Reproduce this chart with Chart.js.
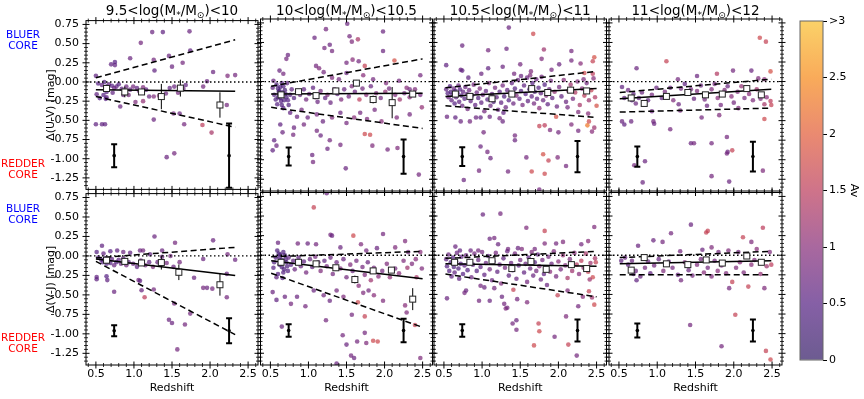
<!DOCTYPE html>
<html>
<head>
<meta charset="utf-8">
<script src="https://cdn.jsdelivr.net/npm/chart.js@4.4.1/dist/chart.umd.min.js"></script>
<style>
body{margin:0;background:#fff;font-family:'DejaVu Sans',sans-serif;}
#fig{position:relative;width:864px;height:399px;overflow:hidden;background:#fff;}
#fig canvas{position:absolute;}
.side{position:absolute;left:0;width:46px;font-size:10.5px;line-height:11px;text-align:center;}
.ttl{position:absolute;top:2px;font-size:13.5px;line-height:17px;white-space:nowrap;transform:translateX(-50%);color:#000;}
.ttl sub{font-size:9px;vertical-align:baseline;position:relative;top:3px;}
</style>
</head>
<body>
<div id="fig"></div>
<script>
// axis ticks and labels
const redshiftTicks = [0.5, 1.0, 1.5, 2.0, 2.5];
const offsetTicks = [-1.25, -1.0, -0.75, -0.5, -0.25, 0, 0.25, 0.5, 0.75];
const avTicks = [0, 0.5, 1, 1.5, 2, 2.5, 3];
const avTickLabels = ['0', '0.5', '1', '1.5', '2', '2.5', '>3'];
const massLow = ['9.5', '10', '10.5', '11'];
const massHigh = ['10', '10.5', '11', '12'];
const colourNames = ['U-V', 'V-J'];

// representative error bars: redshift positions, offset, half-lengths per column
const repZ = [0.74, 2.25];
const repOffset = -0.96;
const uvRepErr = [[0.15, 0.42], [0.115, 0.22], [0.12, 0.20], [0.13, 0.19]];
const vjRepErr = [[0.07, 0.16], [0.08, 0.15], [0.08, 0.14], [0.09, 0.14]];

// fitted lines [z0, d0, z1, d1]
const uvSolid = [[0.50, -0.10, 2.33, -0.12], [0.51, -0.16, 2.50, -0.15], [0.52, -0.19, 2.50, -0.09], [0.51, -0.22, 2.49, -0.10]];
const uvUpper = [[0.50, 0.055, 2.33, 0.55], [0.51, -0.06, 2.50, 0.29], [0.52, -0.08, 2.50, 0.13], [0.51, -0.14, 2.49, 0.03]];
const uvLower = [[0.50, -0.19, 2.33, -0.59], [0.51, -0.33, 2.50, -0.60], [0.52, -0.31, 2.50, -0.46], [0.51, -0.39, 2.49, -0.34]];
const vjSolid = [[0.50, -0.04, 2.33, -0.25], [0.51, -0.07, 2.50, -0.30], [0.52, -0.11, 2.50, -0.14], [0.51, -0.11, 2.49, -0.07]];
const vjUpper = [[0.50, -0.025, 2.33, 0.11], [0.51, -0.02, 2.50, 0.05], [0.52, -0.04, 2.50, 0.05], [0.51, -0.03, 2.49, 0.05]];
const vjLower = [[0.50, -0.07, 2.33, -1.01], [0.51, -0.23, 2.50, -0.92], [0.52, -0.24, 2.50, -0.53], [0.51, -0.25, 2.49, -0.25]];

// binned medians [z, d, err]
const uvMedians = [
  [[0.64, -0.085, 0.02], [0.88, -0.13, 0.07], [1.10, -0.13, 0.02], [1.36, -0.19, 0.165], [1.61, -0.08, 0.11], [2.13, -0.30, 0.165]],
  [[0.64, -0.17, 0.02], [0.87, -0.13, 0.02], [1.10, -0.18, 0.03], [1.36, -0.12, 0.04], [1.63, -0.02, 0.04], [1.85, -0.23, 0.05], [2.10, -0.27, 0.20], [2.37, -0.16, 0.02]],
  [[0.65, -0.16, 0.02], [0.84, -0.19, 0.02], [1.13, -0.22, 0.02], [1.39, -0.16, 0.02], [1.65, -0.09, 0.02], [1.86, -0.14, 0.02], [2.16, -0.11, 0.02], [2.37, -0.12, 0.02]],
  [[0.66, -0.21, 0.02], [0.83, -0.28, 0.02], [1.12, -0.19, 0.02], [1.40, -0.14, 0.02], [1.63, -0.17, 0.02], [1.85, -0.16, 0.02], [2.17, -0.09, 0.03], [2.36, -0.17, 0.03]]
];
const vjMedians = [
  [[0.64, -0.055, 0.02], [0.88, -0.07, 0.02], [1.10, -0.09, 0.02], [1.36, -0.085, 0.09], [1.59, -0.21, 0.10], [2.13, -0.37, 0.14]],
  [[0.64, -0.09, 0.02], [0.87, -0.09, 0.02], [1.10, -0.11, 0.02], [1.36, -0.16, 0.02], [1.61, -0.31, 0.05], [1.85, -0.20, 0.03], [2.09, -0.19, 0.03], [2.37, -0.56, 0.14]],
  [[0.64, -0.09, 0.02], [0.84, -0.09, 0.02], [1.13, -0.07, 0.02], [1.39, -0.17, 0.02], [1.64, -0.08, 0.02], [1.84, -0.18, 0.02], [2.17, -0.12, 0.04], [2.37, -0.17, 0.02]],
  [[0.66, -0.19, 0.02], [0.83, -0.03, 0.02], [1.12, -0.11, 0.02], [1.40, -0.12, 0.02], [1.64, -0.06, 0.02], [1.85, -0.10, 0.02], [2.17, -0.01, 0.02], [2.36, -0.09, 0.02]]
];

// galaxies [redshift, offset, Av]
const uvGal0 = [[1.24,0.65,0.7],[1.38,0.65,0.6],[1.73,0.66,0.7],[1.09,0.51,0.8],[0.95,0.31,0.7],[0.70,0.23,0.6],[0.75,0.26,0.5],[0.75,0.22,0.6],[1.26,0.29,0.8],[1.46,0.34,0.7],[1.74,0.41,0.6],[1.50,0.20,0.7],[1.64,0.25,0.8],[1.27,0.15,0.6],[2.04,0.13,0.7],[2.23,0.08,0.9],[2.33,0.09,0.8],[0.50,0.08,0.6],[1.96,0.01,0.7],
[0.53,-0.02,0.5],[0.58,-0.04,0.6],[0.61,0.00,0.4],[0.64,-0.06,0.5],[0.67,-0.03,0.6],[0.71,-0.05,0.5],[0.74,-0.08,0.7],[0.77,-0.06,0.6],[0.80,-0.03,0.5],[0.84,-0.09,0.6],[0.90,-0.06,0.7],[0.95,-0.10,0.6],[0.99,-0.06,0.8],[1.04,-0.08,0.6],[1.07,-0.12,0.7],[1.12,-0.07,0.9],[1.16,-0.10,0.6],[1.20,-0.19,0.7],[1.26,-0.19,0.9],[1.33,-0.18,1.0],[1.42,-0.15,0.7],[1.47,-0.08,0.6],[1.53,-0.06,0.7],[1.58,-0.14,0.8],[1.65,-0.09,0.7],[1.68,-0.04,0.6],[1.91,-0.06,0.8],
[0.51,-0.16,0.6],[0.55,-0.21,0.5],[0.64,-0.20,0.6],[0.64,-0.13,0.5],[0.82,-0.32,0.7],[1.02,-0.26,0.9],[1.12,-0.25,1.1],[1.26,-0.49,0.7],[1.52,-0.41,0.8],[1.60,-0.41,0.7],[1.66,-0.55,0.8],[1.90,-0.56,1.5],[2.02,-0.66,1.3],[2.22,-0.30,0.8],[1.43,-0.98,0.7],[1.53,-0.93,0.8],[0.50,-0.55,0.6],[0.58,-0.55,0.6],[0.62,-0.55,0.6],[0.60,-0.17,0.5],[0.72,-0.14,0.6],[0.86,-0.17,0.7],[0.93,-0.17,0.8],[0.63,-0.22,0.5]];

const uvGal1 = [[1.51,0.74,0.7],[1.23,0.67,0.8],[1.08,0.56,0.7],[1.54,0.58,0.8],[1.65,0.54,1.3],[1.57,0.51,0.9],[1.98,0.64,0.7],[1.21,0.43,0.8],[1.28,0.47,0.7],[1.31,0.39,0.8],[0.73,0.34,0.7],[0.71,0.29,0.8],[1.98,0.39,0.7],[1.50,0.24,0.8],[1.58,0.28,1.0],[1.66,0.26,0.8],[2.13,0.27,1.8],[1.74,0.20,1.6],[1.10,0.20,0.8],[1.14,0.17,0.9],[1.20,0.12,0.8],[0.62,0.14,0.7],[0.67,0.10,0.8],[0.54,0.01,0.7],[2.47,0.08,0.8],[1.31,0.05,0.9],[1.40,0.03,0.8],[1.50,0.11,0.7],[1.72,0.08,1.0],[1.85,0.03,0.8],[2.02,-0.02,0.9],[2.19,0.01,0.8],[2.29,-0.08,1.0],[2.33,-0.10,0.8],
[0.58,-0.04,0.4],[0.60,-0.09,0.3],[0.61,-0.13,0.4],[0.62,-0.17,0.3],[0.63,-0.21,0.4],[0.64,-0.25,0.5],[0.65,-0.30,0.4],[0.67,-0.34,0.5],[0.67,-0.06,0.4],[0.69,-0.11,0.3],[0.70,-0.16,0.4],[0.71,-0.20,0.3],[0.73,-0.24,0.5],[0.74,-0.30,0.4],[0.76,-0.17,0.5],[0.78,-0.10,0.6],[0.81,-0.21,0.5],[0.55,-0.17,0.5],[0.57,-0.23,0.4],[0.59,-0.29,0.5],[0.53,-0.08,0.6],[0.65,-0.02,0.5],[0.72,-0.02,0.6],[0.62,-0.12,0.3],[0.66,-0.14,0.3],[0.68,-0.24,0.4],[0.60,-0.20,0.4],[0.63,-0.07,0.4],
[0.85,-0.13,0.6],[0.89,-0.17,0.7],[0.94,-0.10,0.6],[0.97,-0.23,0.8],[1.01,-0.16,0.7],[1.06,-0.08,0.6],[1.09,-0.20,0.9],[1.12,-0.26,0.7],[1.16,-0.12,0.8],[1.22,-0.21,0.6],[1.25,-0.17,0.9],[1.29,-0.27,0.7],[1.34,-0.10,0.8],[1.38,-0.16,0.6],[1.43,-0.23,0.9],[1.47,-0.10,0.7],[1.53,-0.19,0.8],[1.57,-0.06,0.9],[1.61,-0.13,0.7],[1.67,-0.23,1.5],[1.71,-0.09,0.8],[1.76,-0.17,1.0],[1.82,-0.06,0.7],[1.89,-0.15,0.9],[1.95,-0.21,0.8],[2.01,-0.13,1.1],[2.06,-0.09,0.8],[2.14,-0.17,0.9],[2.20,-0.23,1.2],[2.26,-0.15,0.8],[2.33,-0.20,1.0],[2.40,-0.10,0.9],[2.47,-0.17,0.8],[2.49,-0.33,1.1],
[0.76,-0.40,0.6],[0.85,-0.45,0.7],[0.91,-0.36,0.8],[0.99,-0.46,0.7],[1.11,-0.42,0.8],[1.19,-0.51,0.7],[1.31,-0.46,0.9],[1.42,-0.40,0.7],[1.50,-0.53,0.8],[1.60,-0.46,1.0],[1.68,-0.40,0.8],[1.77,-0.48,0.9],[1.87,-0.36,0.8],[1.96,-0.51,1.0],[2.16,-0.46,0.9],[2.33,-0.42,0.8],[0.63,-0.55,0.6],[0.66,-0.65,0.7],[0.80,-0.68,0.8],[1.16,-0.69,0.7],[1.28,-0.75,0.8],[1.74,-0.67,1.7],[1.81,-0.68,1.7],[1.11,-0.63,0.8],[0.55,-0.75,0.6],[0.58,-0.82,0.7],[0.53,-0.88,0.6],[1.05,-0.94,0.7],[1.06,-1.03,0.8],[1.25,-0.86,0.7],[1.42,-0.81,0.8],[1.49,-1.11,0.7],[1.84,-0.82,0.9],[2.04,-0.87,0.8],[2.17,-0.85,0.9],[2.45,-1.19,0.8],[0.81,-0.59,0.7],[0.94,-0.55,0.8]];

const uvGal2 = [[0.74,0.46,0.7],[0.53,0.21,0.6],[0.72,0.15,0.7],[0.74,0.14,0.6],[1.35,0.69,0.7],[1.67,0.61,1.7],[1.08,0.40,0.8],[1.32,0.42,0.7],[1.81,0.41,1.2],[2.17,0.39,0.8],[1.27,0.19,0.7],[1.50,0.22,0.8],[1.08,0.17,0.6],[0.99,0.10,0.7],[0.82,0.05,0.6],[1.78,0.29,0.9],[2.01,0.22,0.7],[2.17,0.27,0.8],[2.29,0.23,1.0],[2.47,0.31,1.8],[2.45,0.26,1.6],[1.91,0.15,0.8],[1.64,0.13,0.9],[1.51,0.07,0.7],[1.42,0.10,0.8],[2.34,0.11,1.7],[2.45,0.10,1.5],[2.33,0.03,0.9],
[0.53,-0.10,0.6],[0.55,-0.15,0.5],[0.56,-0.20,0.7],[0.58,-0.06,0.5],[0.59,-0.13,0.4],[0.60,-0.24,0.6],[0.61,-0.17,0.5],[0.63,-0.09,0.7],[0.64,-0.28,0.5],[0.65,-0.12,0.4],[0.66,-0.20,0.6],[0.68,-0.15,0.5],[0.69,-0.05,0.7],[0.70,-0.26,0.6],[0.71,-0.10,0.5],[0.73,-0.18,0.4],[0.74,-0.31,0.7],[0.75,-0.13,0.6],[0.77,-0.22,0.5],[0.78,-0.07,0.7],[0.80,-0.16,0.6],[0.81,-0.35,0.8],
[0.83,-0.11,0.7],[0.85,-0.25,0.6],[0.87,-0.18,0.5],[0.89,-0.04,0.8],[0.91,-0.30,0.6],[0.93,-0.14,0.7],[0.95,-0.21,0.5],[0.97,-0.09,0.9],[0.99,-0.27,0.6],[1.01,-0.17,0.7],[1.03,-0.38,0.8],[1.05,-0.12,0.6],[1.07,-0.23,0.5],[1.09,-0.02,0.9],[1.11,-0.31,0.7],[1.13,-0.16,0.6],[1.15,-0.26,0.4],[1.17,-0.08,0.8],[1.19,-0.20,0.6],[1.21,-0.36,0.7],
[1.23,-0.13,0.5],[1.25,-0.27,0.6],[1.27,-0.05,0.8],[1.29,-0.19,0.4],[1.31,-0.33,0.7],[1.33,-0.11,0.6],[1.35,-0.24,0.5],[1.37,-0.15,0.8],[1.39,-0.02,0.6],[1.41,-0.28,0.7],[1.43,-0.09,0.5],[1.45,-0.18,0.9],[1.47,0.02,0.7],[1.49,-0.22,0.6],[1.51,-0.12,0.4],[1.53,-0.30,0.8],[1.55,-0.05,0.6],[1.57,-0.16,0.5],[1.59,0.05,0.7],[1.60,-0.25,0.6],
[1.62,-0.10,0.4],[1.63,0.08,0.9],[1.65,-0.19,0.6],[1.66,-0.02,0.5],[1.68,-0.28,0.8],[1.69,-0.13,0.4],[1.71,0.03,0.7],[1.72,-0.22,0.6],[1.74,-0.08,0.5],[1.75,-0.34,1.0],[1.77,-0.15,0.6],[1.78,0.06,0.8],[1.80,-0.24,0.7],[1.82,-0.04,0.5],[1.84,-0.18,0.9],[1.86,-0.29,0.6],[1.88,-0.10,0.7],[1.90,0.01,0.8],[1.92,-0.21,0.6],[1.95,-0.13,1.1],[1.98,-0.32,0.7],
[2.01,-0.07,0.8],[2.04,-0.19,0.6],[2.07,0.02,1.0],[2.10,-0.26,0.7],[2.13,-0.12,0.9],[2.16,-0.04,1.2],[2.19,-0.22,0.8],[2.22,-0.14,1.4],[2.25,0.00,0.9],[2.28,-0.30,1.3],[2.31,-0.09,1.0],[2.34,-0.18,1.5],[2.37,-0.02,0.8],[2.40,-0.24,1.2],[2.43,-0.11,1.6],[2.46,0.04,1.0],[2.48,-0.20,1.4],
[0.54,-0.45,0.7],[0.65,-0.46,0.6],[0.72,-0.51,0.7],[0.84,-0.51,0.8],[0.92,-0.46,0.7],[0.98,-0.46,0.6],[1.02,-0.65,0.8],[1.10,-0.45,0.7],[1.23,-0.47,0.8],[1.27,-0.51,0.7],[1.28,-0.40,0.6],[1.43,-0.69,0.8],[1.43,-0.75,0.7],[0.98,-0.83,0.7],[1.07,-0.90,0.8],[1.11,-0.98,0.7],[0.96,-1.14,0.8],[0.76,-1.26,0.7],[1.34,-1.15,0.8],[1.58,-0.97,0.8],[1.65,-1.15,1.7],[1.75,-1.38,0.8],[1.80,-0.93,1.8],[1.82,-1.18,1.7],[1.87,-1.01,1.6],[1.99,-0.97,0.9],[2.10,-1.08,0.8],[1.75,-0.57,1.6],[1.82,-0.56,1.5],[1.89,-0.62,0.9],[1.97,-0.45,1.8],[2.00,-0.65,0.8],[2.17,-0.55,0.9],[2.26,-0.63,0.8],[2.38,-0.56,2.3],[2.40,-0.51,1.7],[2.44,-0.64,1.0],[2.47,-0.59,1.2],[2.50,-0.31,1.8],[2.39,-0.41,1.0],[2.26,-0.39,0.9],[2.12,-0.33,0.8]];

const uvGal3 = [[2.34,0.56,1.7],[2.42,0.51,1.6],[1.12,0.26,1.6],[0.73,0.17,0.7],[1.27,0.03,0.8],[1.52,0.07,0.7],[1.78,0.10,1.4],[1.99,0.14,0.8],[2.23,0.14,0.7],[2.48,0.13,1.8],[2.32,0.04,0.9],[2.40,0.03,1.0],
[0.54,-0.07,0.6],[0.62,-0.11,0.7],[0.69,-0.16,0.6],[0.67,-0.24,0.5],[0.72,-0.28,0.7],[0.76,-0.21,0.6],[0.80,-0.14,0.7],[0.88,-0.24,0.6],[0.93,-0.17,0.8],[0.99,-0.08,0.7],[1.06,-0.21,0.6],[1.10,-0.13,0.8],[1.17,-0.08,0.7],[1.21,-0.24,0.9],[1.28,-0.29,0.7],[1.31,-0.09,0.8],[1.36,-0.03,0.6],[1.44,-0.10,0.8],[1.48,-0.22,0.7],[1.52,-0.12,0.9],[1.57,-0.05,0.7],[1.62,-0.23,0.8],[1.65,-0.31,0.7],[1.71,-0.10,0.9],[1.75,-0.03,0.8],[1.79,-0.21,1.0],[1.83,-0.30,0.8],[1.88,-0.11,0.9],[1.92,-0.06,0.7],[1.97,-0.19,1.0],[2.00,-0.27,0.8],[2.05,-0.13,0.9],[2.10,-0.06,1.1],[2.14,-0.21,0.8],[2.20,-0.16,1.0],[2.25,-0.24,0.9],[2.30,-0.10,1.2],[2.35,-0.22,0.9],[2.40,-0.29,1.3],[2.43,-0.20,1.0],[2.48,-0.25,1.5],[2.49,-0.30,1.6],[0.57,-0.21,0.6],
[0.54,-0.51,0.7],[0.57,-0.55,0.6],[0.66,-0.51,0.7],[0.95,-0.51,0.8],[0.96,-0.54,0.7],[1.17,-0.61,0.8],[1.44,-0.79,0.7],[1.48,-0.79,0.8],[1.58,-0.46,0.8],[1.81,-0.43,0.9],[1.91,-0.71,0.8],[2.40,-0.48,1.7],[0.84,-1.02,0.7],[0.70,-1.07,0.8],[0.81,-1.29,0.7],[1.71,-0.79,0.8],[1.92,-0.90,0.7],[1.91,-0.92,0.8],[1.98,-0.88,1.6],[1.71,-1.21,0.8],[1.94,-1.28,0.7],[2.38,-1.14,0.9],[0.93,-0.38,0.7],[1.30,-0.37,0.8],[2.06,-0.34,0.9]];

const vjGal0 = [[1.27,0.25,0.7],[0.58,0.13,0.6],[1.54,0.17,0.8],[2.04,0.20,0.7],[0.51,0.05,0.5],[0.60,0.03,0.6],[0.69,0.06,0.5],[0.78,0.07,0.6],[0.86,0.05,0.7],[0.95,0.04,0.6],[1.08,0.07,0.7],[1.12,0.07,0.8],[1.21,0.02,0.6],[1.37,0.07,0.7],[1.48,0.00,0.8],[1.91,-0.04,0.7],[2.23,0.02,0.8],[2.33,-0.05,0.7],
[0.53,-0.02,0.5],[0.57,-0.05,0.4],[0.59,-0.08,0.5],[0.62,-0.03,0.4],[0.64,-0.10,0.5],[0.66,-0.06,0.6],[0.69,-0.09,0.5],[0.71,-0.04,0.6],[0.74,-0.12,0.7],[0.77,-0.08,0.5],[0.80,-0.05,0.6],[0.83,-0.10,0.7],[0.86,-0.03,0.6],[0.90,-0.12,0.8],[0.93,-0.08,0.6],[0.99,-0.10,0.7],[1.04,-0.14,0.6],[1.09,-0.06,0.7],[1.15,-0.12,0.8],[1.20,-0.08,0.6],[1.25,-0.14,0.9],[1.31,-0.08,0.7],[1.43,-0.09,0.8],[1.52,-0.14,0.7],[1.60,-0.08,0.8],
[0.51,-0.27,0.6],[0.51,-0.30,0.6],[0.64,-0.26,0.5],[0.65,-0.31,0.6],[0.74,-0.46,0.7],[1.06,-0.31,0.8],[1.26,-0.43,0.8],[1.14,-0.53,1.5],[1.53,-0.61,0.8],[1.74,-0.74,0.8],[1.46,-0.82,0.7],[1.50,-0.86,0.7],[1.67,-0.88,0.8],[1.57,-1.20,0.8],[1.79,-0.28,0.7],[1.91,-0.41,0.8],[1.96,-0.41,0.7],[2.03,-0.42,0.8],[2.22,-0.53,0.8],[2.22,-0.23,0.7],[1.37,-0.01,0.7],[1.08,-0.32,0.6],[1.10,-0.44,0.7]];

const vjGal1 = [[1.24,0.79,0.7],[1.07,0.61,1.6],[1.29,0.26,0.8],[1.31,0.25,0.7],[1.59,0.25,1.7],[1.98,0.27,0.8],[2.27,0.18,0.9],[0.60,0.16,0.7],[0.86,0.15,0.8],[0.99,0.15,0.7],[1.10,0.14,0.8],[1.42,0.10,0.7],[1.69,0.14,0.9],[1.76,0.06,0.8],[1.90,0.09,0.7],[2.14,0.10,0.9],[2.31,0.04,0.8],[2.47,0.04,1.0],
[0.59,0.06,0.4],[0.61,0.02,0.3],[0.62,-0.03,0.4],[0.63,-0.07,0.3],[0.64,-0.11,0.4],[0.65,-0.15,0.3],[0.67,-0.22,0.5],[0.67,0.04,0.4],[0.69,0.00,0.3],[0.70,-0.05,0.4],[0.71,-0.09,0.3],[0.72,-0.14,0.4],[0.73,-0.20,0.5],[0.57,-0.03,0.5],[0.55,-0.09,0.4],[0.54,-0.16,0.5],[0.58,-0.28,0.6],[0.60,-0.24,0.5],[0.66,-0.29,0.5],[0.62,-0.12,0.3],[0.65,-0.06,0.3],[0.68,-0.18,0.4],[0.63,0.01,0.4],
[0.74,-0.03,0.6],[0.77,-0.12,0.5],[0.80,-0.07,0.6],[0.82,-0.18,0.7],[0.87,-0.03,0.6],[0.90,-0.14,0.7],[0.94,-0.08,0.6],[0.97,-0.22,0.8],[1.02,-0.05,0.7],[1.05,-0.15,0.6],[1.09,-0.02,0.8],[1.13,-0.09,0.7],[1.16,-0.20,0.9],[1.21,-0.07,0.6],[1.24,-0.14,0.8],[1.29,-0.03,0.7],[1.32,-0.24,0.8],[1.37,-0.09,0.7],[1.42,-0.17,0.9],[1.46,-0.05,0.7],[1.50,-0.28,0.8],[1.55,-0.12,0.9],[1.58,-0.20,0.7],[1.63,-0.07,0.8],[1.66,-0.39,1.0],[1.71,-0.15,0.8],[1.74,-0.25,0.9],[1.78,-0.09,0.7],[1.82,-0.32,1.2],[1.86,-0.16,0.8],[1.92,-0.27,1.0],[1.97,-0.20,0.8],[2.03,-0.11,0.9],[2.07,-0.28,1.1],[2.14,-0.17,0.8],[2.19,-0.23,1.0],[2.25,-0.07,0.9],[2.30,-0.16,1.2],[2.36,-0.11,0.9],[2.41,-0.05,1.0],[2.49,-0.17,0.9],[2.42,-0.28,1.3],
[0.53,-0.47,0.7],[0.58,-0.57,0.6],[0.69,-0.53,0.7],[0.77,-0.62,0.8],[0.85,-0.53,0.7],[0.96,-0.65,0.8],[1.07,-0.45,0.7],[1.20,-0.51,0.8],[1.28,-0.58,0.7],[1.37,-0.45,0.8],[1.46,-0.53,0.9],[1.57,-0.76,0.8],[1.65,-0.60,1.7],[1.72,-0.48,0.9],[1.79,-0.45,0.8],[1.86,-0.51,1.0],[1.98,-0.58,0.9],[2.27,-0.64,1.0],[2.29,-0.73,0.9],[2.40,-0.89,1.6],[0.65,-0.91,0.7],[1.45,-1.02,0.8],[1.50,-1.14,0.7],[1.64,-1.10,0.8],[1.74,-0.99,0.8],[1.76,-1.12,0.9],[1.85,-1.09,1.7],[1.91,-1.10,1.7],[1.56,-1.28,0.8],[1.60,-1.31,0.7],[2.47,-1.31,0.9],[1.74,-0.78,1.6],[1.23,-0.83,0.8],[1.37,-1.38,0.7]];

const vjGal2 = [[1.01,0.52,0.7],[1.24,0.53,0.8],[0.65,0.11,0.7],[0.71,0.06,0.6],[0.85,0.06,0.7],[0.95,0.06,0.8],[1.10,0.21,0.7],[1.16,0.22,0.8],[1.21,0.14,0.7],[1.34,0.08,0.8],[1.58,0.35,0.9],[1.82,0.31,1.6],[1.97,0.15,0.8],[2.06,0.17,0.9],[2.30,0.14,0.8],[2.39,0.18,1.0],[2.47,0.36,0.9],[1.82,0.15,0.9],[1.69,0.08,0.8],[1.47,0.09,0.7],
[0.53,-0.05,0.6],[0.54,-0.14,0.5],[0.56,0.01,0.7],[0.57,-0.20,0.5],[0.59,-0.09,0.4],[0.60,-0.27,0.6],[0.62,-0.03,0.5],[0.63,-0.15,0.4],[0.64,-0.22,0.6],[0.66,-0.08,0.5],[0.67,0.03,0.7],[0.69,-0.17,0.4],[0.70,-0.30,0.6],[0.72,-0.11,0.5],[0.73,-0.02,0.6],[0.75,-0.24,0.5],[0.77,-0.13,0.6],[0.79,0.00,0.7],[0.81,-0.19,0.5],[0.83,-0.07,0.6],
[0.86,-0.28,0.7],[0.88,-0.12,0.6],[0.90,0.02,0.8],[0.93,-0.20,0.5],[0.95,-0.06,0.7],[0.98,-0.15,0.6],[1.00,0.04,0.8],[1.03,-0.25,0.6],[1.05,-0.10,0.7],[1.08,-0.01,0.6],[1.10,-0.18,0.8],[1.13,-0.32,0.7],[1.15,-0.08,0.5],[1.18,0.03,0.8],[1.20,-0.21,0.6],[1.23,-0.12,0.7],[1.25,-0.36,0.9],[1.28,-0.04,0.6],[1.30,-0.16,0.8],[1.33,0.05,0.7],
[1.35,-0.26,0.6],[1.38,-0.10,0.7],[1.40,-0.19,0.5],[1.43,0.02,0.8],[1.45,-0.30,0.7],[1.48,-0.13,0.6],[1.50,-0.06,0.8],[1.52,0.08,0.9],[1.55,-0.22,0.6],[1.57,-0.11,0.7],[1.59,-0.34,0.8],[1.61,-0.03,0.6],[1.63,-0.17,0.7],[1.65,0.04,0.9],[1.67,-0.26,0.7],[1.69,-0.09,0.5],[1.71,-0.20,0.8],[1.73,0.01,0.6],[1.75,-0.14,0.9],[1.77,-0.31,0.7],
[1.79,-0.06,0.8],[1.81,-0.24,0.6],[1.83,-0.16,0.9],[1.85,-0.38,0.7],[1.87,-0.02,0.8],[1.89,-0.21,1.0],[1.91,-0.11,0.7],[1.94,0.05,0.9],[1.97,-0.27,0.8],[2.00,-0.08,1.0],[2.03,-0.18,0.8],[2.06,0.00,1.1],[2.09,-0.13,0.9],[2.12,-0.29,1.3],[2.15,-0.05,0.9],[2.18,-0.20,1.2],[2.21,0.03,1.0],[2.24,-0.12,1.4],[2.27,-0.24,1.0],[2.30,-0.07,1.5],[2.33,-0.16,1.1],[2.36,0.02,1.3],[2.39,-0.21,1.6],[2.42,-0.10,1.2],[2.45,-0.28,1.7],[2.48,-0.04,1.3],
[0.54,-0.55,0.7],[0.77,-0.48,0.8],[0.79,-0.45,0.7],[0.98,-0.39,0.8],[1.03,-0.41,0.7],[0.96,-0.58,0.8],[1.10,-0.58,0.7],[1.16,-0.42,0.8],[1.26,-0.53,0.7],[1.29,-0.62,0.8],[1.31,-0.68,0.9],[1.33,-0.67,0.8],[1.41,-0.44,1.6],[1.46,-0.56,0.8],[1.59,-0.60,0.9],[1.40,-0.87,0.8],[1.45,-0.83,0.7],[1.45,-0.95,0.8],[1.74,-0.87,1.6],[1.75,-0.97,1.7],[1.68,-1.15,1.7],[1.95,-1.04,0.8],[2.10,-0.78,0.9],[1.99,-0.51,1.6],[2.12,-0.45,0.9],[2.26,-0.65,0.8],[2.32,-0.53,1.0],[2.40,-0.46,1.6],[2.44,-0.54,1.2],[2.47,-0.63,1.7],[2.41,-0.31,1.2],[2.49,-0.09,1.6],[2.24,-1.28,0.8],[2.13,-1.14,1.6]];

const vjGal3 = [[1.44,0.39,0.7],[1.64,0.29,1.6],[1.66,0.31,1.6],[1.18,0.28,0.8],[0.95,0.19,0.7],[1.07,0.17,0.8],[0.75,0.12,0.7],[2.12,0.23,1.6],[2.23,0.17,0.9],[2.38,0.35,1.5],[1.30,0.05,0.8],[1.59,0.07,0.7],[1.71,0.10,0.9],[1.80,0.04,0.8],[1.93,0.06,0.9],[2.06,0.04,0.8],[2.30,0.08,1.0],[2.47,0.04,0.9],
[0.53,-0.07,0.6],[0.58,-0.03,0.7],[0.62,-0.12,0.6],[0.67,-0.07,0.7],[0.69,-0.24,0.6],[0.72,-0.20,0.7],[0.73,-0.32,0.6],[0.78,-0.27,0.7],[0.84,-0.16,0.8],[0.88,-0.08,0.7],[0.91,-0.23,0.6],[0.96,-0.13,0.8],[1.02,-0.05,0.7],[1.08,-0.20,0.9],[1.15,-0.08,0.7],[1.20,-0.16,0.8],[1.27,-0.25,0.7],[1.31,-0.32,0.8],[1.36,-0.09,0.9],[1.41,-0.19,0.7],[1.46,-0.26,0.8],[1.52,-0.12,0.9],[1.57,-0.05,0.8],[1.61,-0.22,1.0],[1.66,-0.16,0.8],[1.71,-0.27,0.9],[1.75,-0.07,0.8],[1.79,-0.20,1.0],[1.84,-0.13,0.8],[1.90,-0.23,0.9],[1.94,-0.42,0.8],[1.98,-0.34,1.6],[2.03,-0.16,0.9],[2.08,-0.09,1.0],[2.13,-0.22,0.9],[2.19,-0.40,1.6],[2.23,-0.12,1.0],[2.27,-0.06,0.9],[2.35,-0.24,1.1],[2.40,-0.42,0.9],[2.43,-0.14,1.2],[2.49,-0.12,1.5],
[1.43,-0.89,0.8],[2.02,-0.76,1.6],[1.84,-1.16,0.8],[2.42,-1.22,1.6],[2.48,-1.33,1.7]];

const uvGalaxies = [uvGal0, uvGal1, uvGal2, uvGal3];
const vjGalaxies = [vjGal0, vjGal1, vjGal2, vjGal3];

// --- layout (pixels) ---
const colLeft = [86, 260.5, 434, 609];
const colRight = [258, 432.5, 606.5, 782];
const rowTop = [19, 192.5];
const rowBottom = [191, 365];
const zMin = 0.37, zMax = 2.63, dMin = -1.4, dMax = 0.8;

Chart.defaults.font.family = "'DejaVu Sans', sans-serif";
Chart.defaults.color = '#000';

// inferno-like colour map (truncated), Av 0..3
const avStops = [[46, 22, 98], [82, 28, 128], [132, 40, 118], [186, 56, 88], [225, 88, 52], [246, 135, 20], [249, 190, 40]];
function avColour(av, a) {
  const t = Math.max(0, Math.min(3, av)) / 0.5;
  const i = Math.min(5, Math.floor(t)), f = t - i;
  const c0 = avStops[i], c1 = avStops[i + 1];
  const c = c0.map((v, k) => Math.round(v + (c1[k] - v) * f));
  return `rgba(${c[0]},${c[1]},${c[2]},${a})`;
}

const fig = document.getElementById('fig');

function lineDs(seg, dash) {
  return {
    data: [{x: seg[0], y: seg[1]}, {x: seg[2], y: seg[3]}],
    showLine: true, borderColor: '#000', borderWidth: 1.5, borderDash: dash,
    pointRadius: 0, fill: false, order: 0
  };
}

function makePanel(r, c) {
  const L = colLeft[c], R = colRight[c], T = rowTop[r], B = rowBottom[r];
  const cl = c === 0 ? 45 : Math.floor(L) - 12;
  const cr = Math.ceil(R) + 12;
  const ct = Math.floor(T) - 12;
  const cb = r === 1 ? 399 : Math.ceil(B) + 12;
  const cv = document.createElement('canvas');
  cv.width = cr - cl; cv.height = cb - ct;
  cv.style.left = cl + 'px'; cv.style.top = ct + 'px';
  fig.appendChild(cv);

  const pts = r === 0 ? uvGalaxies[c] : vjGalaxies[c];
  const meds = r === 0 ? uvMedians[c] : vjMedians[c];
  const rep = r === 0 ? uvRepErr[c] : vjRepErr[c];
  const solid = r === 0 ? uvSolid[c] : vjSolid[c];
  const upper = r === 0 ? uvUpper[c] : vjUpper[c];
  const lower = r === 0 ? uvLower[c] : vjLower[c];

  const decor = {
    id: 'decor',
    afterDatasetsDraw(chart) {
      const {ctx, chartArea: a, scales: {x, y}} = chart;
      ctx.save();
      ctx.beginPath(); ctx.rect(a.left, a.top, a.width, a.height); ctx.clip();
      // zero line
      const py0 = y.getPixelForValue(0);
      ctx.strokeStyle = '#000'; ctx.lineWidth = 1.3; ctx.setLineDash([1.5, 2.5]);
      ctx.beginPath(); ctx.moveTo(a.left, py0); ctx.lineTo(a.right, py0); ctx.stroke();
      ctx.setLineDash([]);
      // medians with errors
      ctx.lineWidth = 1;
      meds.forEach(m => {
        const px = x.getPixelForValue(m[0]);
        ctx.beginPath();
        ctx.moveTo(px, y.getPixelForValue(m[1] - m[2]));
        ctx.lineTo(px, y.getPixelForValue(m[1] + m[2]));
        ctx.stroke();
      });
      meds.forEach(m => {
        const px = x.getPixelForValue(m[0]), py = y.getPixelForValue(m[1]);
        ctx.fillStyle = '#fff'; ctx.fillRect(px - 3, py - 3, 6, 6);
        ctx.strokeStyle = '#222'; ctx.strokeRect(px - 3, py - 3, 6, 6);
      });
      // representative error bars
      ctx.strokeStyle = '#000'; ctx.fillStyle = '#000'; ctx.lineWidth = 2;
      repZ.forEach((z, i) => {
        const px = x.getPixelForValue(z), py = y.getPixelForValue(repOffset);
        const p0 = y.getPixelForValue(repOffset - rep[i]), p1 = y.getPixelForValue(repOffset + rep[i]);
        ctx.beginPath();
        ctx.moveTo(px, p0); ctx.lineTo(px, p1);
        ctx.moveTo(px - 3, p0); ctx.lineTo(px + 3, p0);
        ctx.moveTo(px - 3, p1); ctx.lineTo(px + 3, p1);
        ctx.stroke();
        ctx.beginPath(); ctx.arc(px, py, 1.8, 0, Math.PI * 2); ctx.fill();
      });
      ctx.restore();
    },
    afterDraw(chart) {
      const {ctx, chartArea: a, scales: {x, y}} = chart;
      ctx.save();
      ctx.strokeStyle = '#000'; ctx.lineWidth = 1;
      ctx.strokeRect(a.left, a.top, a.width, a.height);
      const tick = (x0, y0, x1, y1) => { ctx.moveTo(x0, y0); ctx.lineTo(x1, y1); };
      ctx.beginPath();
      redshiftTicks.forEach(v => {
        const p = x.getPixelForValue(v);
        tick(p, a.bottom - 3.5, p, a.bottom + 3.5); tick(p, a.top - 3.5, p, a.top + 3.5);
      });
      offsetTicks.forEach(v => {
        const p = y.getPixelForValue(v);
        tick(a.left - 3.5, p, a.left + 3.5, p); tick(a.right - 3.5, p, a.right + 3.5, p);
      });
      ctx.stroke();
      ctx.lineWidth = 0.8;
      ctx.beginPath();
      for (let k = 4; k <= 26; k++) {
        if (k % 5 === 0) continue;
        const p = x.getPixelForValue(k / 10);
        tick(p, a.bottom - 2, p, a.bottom + 2); tick(p, a.top - 2, p, a.top + 2);
      }
      for (let k = -27; k <= 15; k++) {
        if (k % 5 === 0) continue;
        const p = y.getPixelForValue(k / 20);
        tick(a.left - 2, p, a.left + 2, p); tick(a.right - 2, p, a.right + 2, p);
      }
      ctx.stroke();
      ctx.restore();
    }
  };

  new Chart(cv, {
    type: 'scatter',
    data: {
      datasets: [
        lineDs(solid, []),
        lineDs(upper, [6, 3.5]),
        lineDs(lower, [6, 3.5]),
        {
          data: pts.map(p => ({x: p[0], y: p[1]})),
          pointRadius: 2.3, pointBorderWidth: 0,
          pointBackgroundColor: pts.map(p => avColour(p[2], 0.7)),
          order: 1
        }
      ]
    },
    options: {
      responsive: false, animation: false, events: [], devicePixelRatio: 1,
      layout: {padding: {left: 0, top: T - ct, right: cr - R, bottom: 0}},
      plugins: {legend: {display: false}, tooltip: {enabled: false}},
      scales: {
        x: {
          type: 'linear', min: zMin, max: zMax,
          afterFit: s => { s.height = cb - B; },
          afterBuildTicks: s => { s.ticks = redshiftTicks.map(v => ({value: v})); },
          grid: {display: false, drawTicks: false}, border: {display: false},
          ticks: {display: r === 1, padding: 3, font: {size: 11}, callback: v => v.toFixed(1)},
          title: {display: r === 1, text: 'Redshift', font: {size: 11}, padding: {top: 0, bottom: 4}}
        },
        y: {
          type: 'linear', min: dMin, max: dMax,
          afterFit: s => { s.width = L - cl; },
          afterBuildTicks: s => { s.ticks = offsetTicks.map(v => ({value: v})); },
          grid: {display: false, drawTicks: false}, border: {display: false},
          ticks: {display: c === 0, padding: 7, font: {size: 11}, callback: v => v.toFixed(2)},
          title: {display: c === 0, text: 'Δ(' + colourNames[r] + ') [mag]', font: {size: 11}, padding: {top: 0, bottom: 0}}
        }
      }
    },
    plugins: [decor]
  });
}

for (let r = 0; r < 2; r++) for (let c = 0; c < 4; c++) makePanel(r, c);

// titles
for (let c = 0; c < 4; c++) {
  const d = document.createElement('div');
  d.className = 'ttl';
  d.style.left = ((colLeft[c] + colRight[c]) / 2) + 'px';
  d.innerHTML = `${massLow[c]}&lt;log(M<sub>*</sub>/M<sub>⊙</sub>)&lt;${massHigh[c]}`;
  fig.appendChild(d);
}
// side notes
[[29, 'BLUER<br>CORE', '#0000ff'], [158, 'REDDER<br>CORE', '#ff0000'],
 [203, 'BLUER<br>CORE', '#0000ff'], [332, 'REDDER<br>CORE', '#ff0000']].forEach(s => {
  const d = document.createElement('div');
  d.className = 'side'; d.style.top = s[0] + 'px'; d.style.color = s[2];
  d.innerHTML = s[1];
  fig.appendChild(d);
});

// colour bar
const cb = document.createElement('canvas');
cb.width = 74; cb.height = 362;
cb.style.left = '790px'; cb.style.top = '9px';
fig.appendChild(cb);
new Chart(cb, {
  type: 'bar',
  data: {
    labels: ['Av'],
    datasets: [{
      data: [avTicks[avTicks.length - 1]],
      barPercentage: 1, categoryPercentage: 1, borderWidth: 0,
      backgroundColor: ctx => {
        const a = ctx.chart.chartArea;
        if (!a) return null;
        const g = ctx.chart.ctx.createLinearGradient(0, a.bottom, 0, a.top);
        avStops.forEach((s, i) => g.addColorStop(i / (avStops.length - 1), avColour(i * 0.5, 0.7)));
        return g;
      }
    }]
  },
  options: {
    responsive: false, animation: false, events: [], devicePixelRatio: 1,
    layout: {padding: {left: 10, top: 12, right: 0, bottom: 11}},
    plugins: {legend: {display: false}, tooltip: {enabled: false}},
    scales: {
      x: {display: false},
      y: {
        position: 'right', min: 0, max: 3,
        afterFit: s => { s.width = 41; },
        afterBuildTicks: s => { s.ticks = avTicks.map(v => ({value: v})); },
        grid: {drawOnChartArea: false, drawTicks: true, tickLength: 4, color: '#000'},
        border: {display: false},
        ticks: {padding: 2, font: {size: 11}, callback: (v, i) => avTickLabels[i]},
        title: {display: true, text: 'Av', font: {size: 11}, padding: {top: 4, bottom: 0}}
      }
    }
  },
  plugins: [{
    id: 'cbframe',
    afterDraw(chart) {
      const {ctx, chartArea: a} = chart;
      ctx.save(); ctx.strokeStyle = '#666'; ctx.lineWidth = 1;
      ctx.strokeRect(a.left, a.top, a.width, a.height);
      ctx.restore();
    }
  }]
});
</script>
</body>
</html>
